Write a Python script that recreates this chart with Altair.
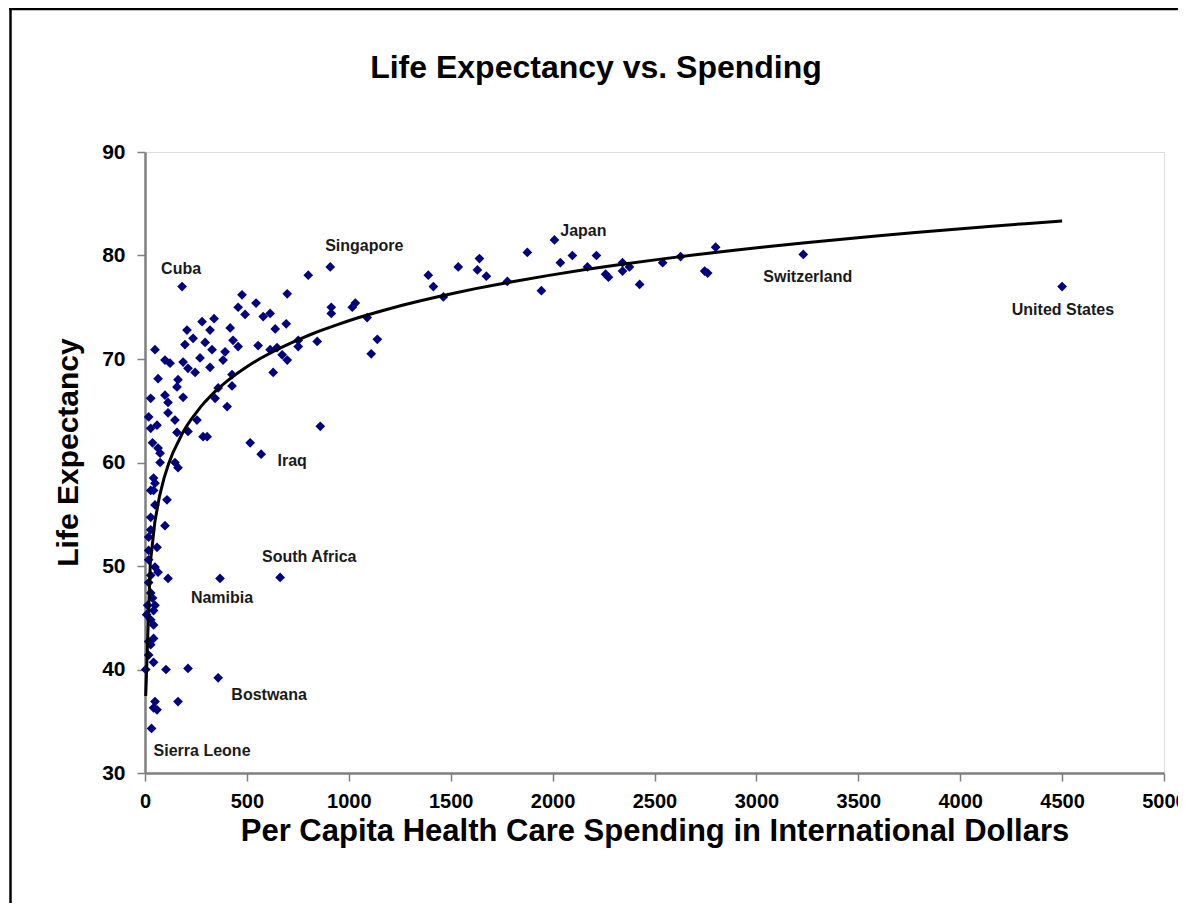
import altair as alt
import pandas as pd

# Per capita health care spending (international $) and life expectancy
spending = [
    4500, 3230, 2800, 2761, 2746, 2628, 2540, 2427, 2377, 2343, 2343, 2274, 2260, 2215,
    2171, 2097, 2038, 2009, 1945, 1876, 1778, 1675, 1641, 1631, 1537, 1464, 1415, 1390,
    909, 801, 698, 476, 457, 545, 491, 580, 614, 280, 339, 914, 914, 1017, 1032, 1090,
    693, 639, 418, 319, 206, 236, 196, 295, 432, 457, 49, 329, 393, 270, 383, 98, 123,
    187, 211, 319, 246, 64, 162, 157, 427, 359, 427, 98, 28, 113, 187, 344, 403, 555,
    614, 648, 673, 698, 752, 752, 845, 1140, 1110, 629, 860, 182,
    18, 59, 28, 113, 147, 157, 211, 255, 285, 305, 37, 64, 74, 74, 147, 162, 42, 49,
    28, 42, 108, 49, 28, 98, 516, 570, 28, 18, 59, 18, 49, 64, 113, 18, 368, 663, 13,
    49, 28, 42, 28, 42, 42, 18, 28, 42, 103, 211, 359, 49, 162, 42, 59, 32,
    18, 28, 37, 8, 18, 3.5,
]
life_expectancy = [
    77.0, 80.1, 80.8, 78.3, 78.5, 79.9, 79.3, 77.2, 78.9, 79.3, 78.5, 77.9, 78.2, 80.0,
    78.9, 80.0, 79.3, 81.5, 76.6, 80.3, 77.5, 78.0, 79.7, 78.6, 78.9, 76.0, 77.0, 78.1,
    78.9, 78.1, 76.3, 76.2, 75.0, 75.4, 74.3, 74.1, 74.4, 73.6, 73.9, 75.0, 74.4, 75.0,
    75.4, 74.0, 73.4, 72.9, 73.0, 72.8, 72.8, 72.0, 71.4, 71.6, 71.8, 71.2, 70.9, 70.9,
    70.7, 70.1, 69.9, 69.9, 69.6, 69.7, 69.1, 69.2, 68.7, 68.1, 68.0, 67.3, 68.5, 67.2,
    67.4, 66.5, 66.2, 65.8, 66.3, 66.2, 65.4, 71.3, 70.9, 71.1, 70.4, 69.9, 71.8, 71.2,
    71.7, 71.9, 70.5, 68.7, 63.5, 77.0,
    64.4, 63.6, 63.3, 64.8, 64.1, 62.9, 63.0, 64.1, 62.5, 62.5, 61.9, 61.4, 60.9, 60.0,
    60.0, 59.5, 58.5, 58.0, 57.3, 57.3, 56.4, 55.9, 54.7, 53.9, 61.9, 60.8, 53.5, 52.8,
    51.8, 51.5, 49.9, 49.4, 48.8, 48.4, 48.8, 48.9, 46.2, 46.2, 47.4, 45.7, 44.8, 44.3,
    43.0, 42.7, 42.4, 40.7, 40.0, 40.1, 39.2, 36.9, 36.9, 36.3, 36.1, 34.3,
    50.6, 49.1, 46.9, 45.3, 41.4, 40.0,
]

# Country labels and where their text sits (data units)
label_names = ["Cuba", "Singapore", "Japan", "Switzerland", "United States",
               "Iraq", "South Africa", "Namibia", "Bostwana", "Sierra Leone"]
label_x = [177, 1076, 2151, 3252, 4504, 722, 806, 378, 609, 280]
label_y = [78.7, 80.9, 82.4, 77.9, 74.7, 60.1, 50.9, 46.9, 37.5, 32.1]

chart_title = "Life Expectancy vs. Spending"
x_title = "Per Capita Health Care Spending in International Dollars"
y_title = "Life Expectancy"

x_ticks = list(range(0, 5001, 500))
y_ticks = list(range(30, 91, 10))

assert len(spending) == len(life_expectancy)

pts = pd.DataFrame({"spend": spending, "life": life_expectancy})
labs = pd.DataFrame({"name": label_names, "x": label_x, "y": label_y})
ttl = pd.DataFrame({"t": [chart_title]})

FONT = "Liberation Sans"

x_enc = alt.X(
    "spend:Q",
    scale=alt.Scale(domain=[0, 5000], nice=False, zero=False),
    axis=alt.Axis(
        values=x_ticks, format="d", grid=False, title=x_title,
        domainColor="#7f7f7f", domainWidth=2.5, tickColor="#7f7f7f", tickWidth=1.5, tickSize=8,
        labelFont=FONT, labelFontWeight="bold", labelFontSize=20, labelColor="black",
        labelPadding=10, labelFlush=False,
        titleFont=FONT, titleFontWeight="bold", titleFontSize=31, titleColor="black",
        titleY=58, titleBaseline="middle",
    ),
)
y_enc = alt.Y(
    "life:Q",
    scale=alt.Scale(domain=[30, 90], nice=False, zero=False),
    axis=alt.Axis(
        values=y_ticks, format="d", grid=False, title=y_title,
        domainColor="#7f7f7f", domainWidth=2.5, tickColor="#7f7f7f", tickWidth=1.5, tickSize=8,
        labelFont=FONT, labelFontWeight="bold", labelFontSize=21, labelColor="black",
        labelPadding=12,
        titleFont=FONT, titleFontWeight="bold", titleFontSize=30, titleColor="black",
        titleX=-77, titleY=300, titleAngle=-90, titleBaseline="middle", titleAlign="center",
    ),
)

points = alt.Chart(pts).mark_point(
    shape="diamond", filled=True, color="#000080", size=95, opacity=1
).encode(x=x_enc, y=y_enc)

trend = alt.Chart(pts).transform_regression(
    "spend", "life", method="log"
).mark_line(color="black", strokeWidth=3).encode(
    x=alt.X("spend:Q"), y=alt.Y("life:Q")
)

labels = alt.Chart(labs).mark_text(
    font=FONT, fontWeight="bold", fontSize=16, color="#1a1a1a", align="center", baseline="middle"
).encode(x=alt.X("x:Q"), y=alt.Y("y:Q"), text="name:N")

title_mark = alt.Chart(ttl).mark_text(
    font=FONT, fontWeight="bold", fontSize=32, color="black", align="center", baseline="middle"
).encode(x=alt.value(451), y=alt.value(-84), text="t:N")

# outer chart-area border (left and top edges visible in the reference)
frame_left = alt.Chart(ttl).mark_rule(color="black", strokeWidth=2.5).encode(
    x=alt.value(-134.5), y=alt.value(-144), y2=alt.value(800)
)
frame_top = alt.Chart(ttl).mark_rule(color="black", strokeWidth=2.5).encode(
    y=alt.value(-143), x=alt.value(-136), x2=alt.value(1400)
)

chart = alt.layer(points, trend, labels, title_mark, frame_left, frame_top).properties(
    width=1019,
    height=621,
    padding={"left": 137, "top": 144, "right": 14, "bottom": 130},
    autosize=alt.AutoSizeParams(type="none"),
).configure_view(
    stroke="#c8c8c8", strokeWidth=2
).configure(background="white")

chart.save("out.html", embed_options={"renderer": "svg", "actions": False})
